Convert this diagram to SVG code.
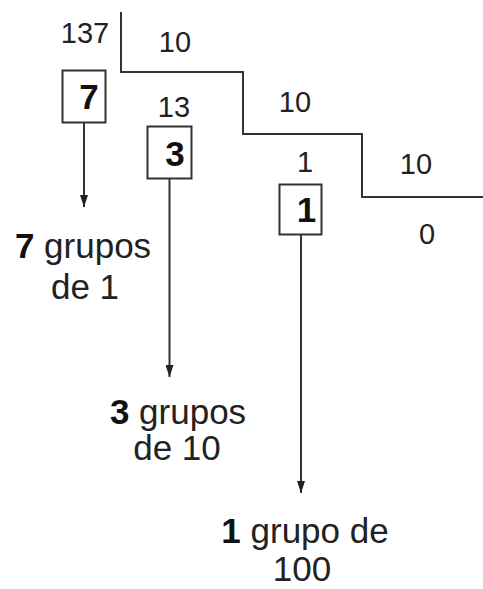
<svg xmlns="http://www.w3.org/2000/svg" width="483" height="589" viewBox="0 0 483 589">
  <style>
    .ln { fill: none; stroke: #333; stroke-width: 2; }
    .box { fill: #fff; stroke: #333; stroke-width: 2; }
    .num { font-family: "Liberation Sans", Arial, sans-serif; font-size: 29px; fill: #222; text-anchor: middle; }
    .dig { font-family: "Liberation Sans", Arial, sans-serif; font-size: 35px; font-weight: bold; fill: #111; text-anchor: middle; }
    .lbl { font-family: "Liberation Sans", Arial, sans-serif; font-size: 35px; fill: #222; text-anchor: middle; }
    .b { font-weight: bold; fill: #111; }
  </style>
  <defs>
    <marker id="arrow" markerUnits="userSpaceOnUse" viewBox="0 0 12 8" markerWidth="12" markerHeight="8" refX="12" refY="4" orient="auto">
      <path d="M0,0 L12,4 L0,8 z" fill="#222"/>
    </marker>
  </defs>

  <!-- long division bracket -->
  <g id="division">
    <path class="ln" d="M121,12 V72 H243 V134 H362 V197 H483"/>
    <text class="num" x="85" y="43">137</text>
    <text class="num" x="175" y="52">10</text>
    <text class="num" x="174" y="117">13</text>
    <text class="num" x="295" y="112">10</text>
    <text class="num" x="305" y="172">1</text>
    <text class="num" x="416" y="174">10</text>
    <text class="num" x="427" y="244">0</text>
  </g>

  <!-- remainder boxes -->
  <g id="box-7">
    <rect class="box" x="62.5" y="70.5" width="43" height="52"/>
    <text class="dig" x="89" y="109">7</text>
  </g>
  <g id="box-3">
    <rect class="box" x="147.5" y="126.5" width="44" height="52"/>
    <text class="dig" x="175" y="166">3</text>
  </g>
  <g id="box-1">
    <rect class="box" x="279.5" y="184.5" width="42" height="50"/>
    <text class="dig" x="306.5" y="222">1</text>
  </g>

  <!-- arrows from each digit to its meaning -->
  <g id="connectors">
    <line class="ln" x1="84" y1="122" x2="84" y2="207" marker-end="url(#arrow)"/>
    <line class="ln" x1="169.5" y1="178" x2="169.5" y2="377" marker-end="url(#arrow)"/>
    <line class="ln" x1="301" y1="234" x2="301" y2="493" marker-end="url(#arrow)"/>
  </g>

  <!-- place-value labels -->
  <g id="label-ones">
    <text class="lbl" x="83" y="258"><tspan class="b">7</tspan> grupos</text>
    <text class="lbl" x="85" y="299">de 1</text>
  </g>
  <g id="label-tens">
    <text class="lbl" x="178" y="424"><tspan class="b">3</tspan> grupos</text>
    <text class="lbl" x="177" y="460">de 10</text>
  </g>
  <g id="label-hundreds">
    <text class="lbl" x="305" y="543"><tspan class="b">1</tspan> grupo de</text>
    <text class="lbl" x="302" y="581">100</text>
  </g>
</svg>
